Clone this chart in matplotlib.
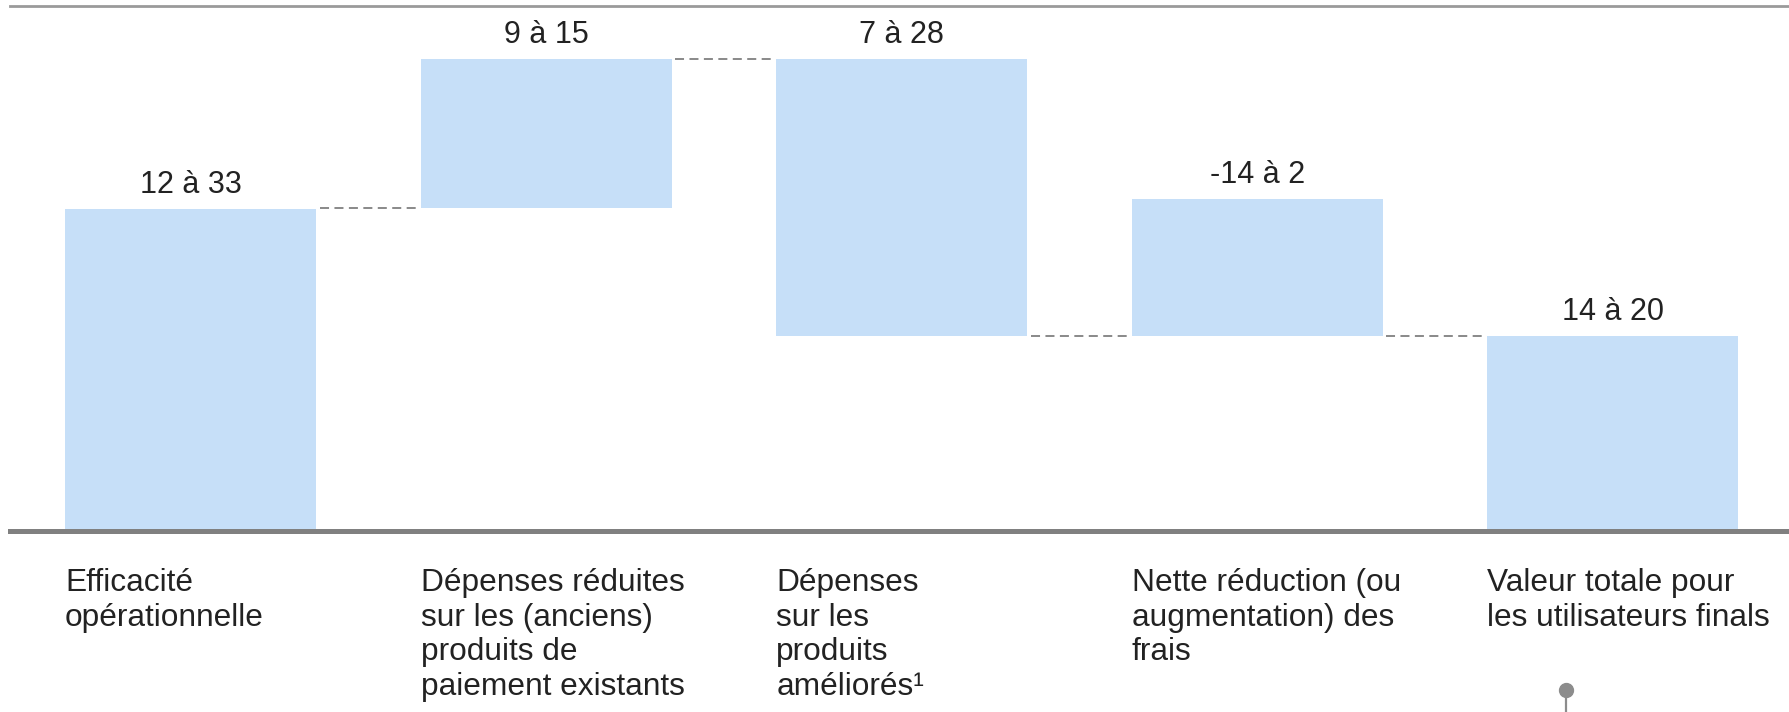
import matplotlib.pyplot as plt

plt.rcParams['font.family'] = ['Liberation Sans', 'DejaVu Sans']

# categories and ranges (upper bound of each range sets the bar size)
categories = [
    "Efficacité\nopérationnelle",
    "Dépenses réduites\nsur les (anciens)\nproduits de\npaiement existants",
    "Dépenses\nsur les\nproduits\naméliorés¹",
    "Nette réduction (ou\naugmentation) des\nfrais",
    "Valeur totale pour\nles utilisateurs finals",
]
value_labels = ["12 à 33", "9 à 15", "7 à 28", "-14 à 2", "14 à 20"]
bar_low = [0, 33.1, 20, 20, 0]
bar_high = [33, 48.4, 48.4, 34, 20]
connector_levels = [33.05, 48.4, 20, 20]

W, H = 1790, 712
BASE_PX = 531
fig = plt.figure(figsize=(W / 100, H / 100), dpi=100)
ax = fig.add_axes([10 / W, (H - BASE_PX) / H, 1780 / W, (BASE_PX - 6) / H])

x = list(range(len(categories)))
bw = 0.706
ax.bar(x, [h - l for h, l in zip(bar_high, bar_low)], bottom=bar_low,
       width=bw, color='#c6dff8', zorder=2)

ax.set_xlim(-0.5076, 4.498)
ax.set_ylim(0, 53.8)

# dashed connectors between bars
for i, lvl in enumerate(connector_levels):
    ax.plot([i + bw / 2 + 0.01, i + 1 - bw / 2 - 0.01], [lvl, lvl],
            color='#808080', lw=1.3, ls=(0, (5, 3)), zorder=1)

# range labels
for i, lab in enumerate(value_labels):
    ax.text(i, bar_high[i] + 1.64, lab, ha='center', va='baseline',
            fontsize=22, color='#222222')

# category labels under the axis
tr = ax.get_xaxis_transform()
for i, cat in enumerate(categories):
    ax.text(i - bw / 2, -0.071, cat, transform=tr, ha='left', va='top',
            fontsize=22.8, color='#222222', linespacing=1.2)

for s in ['left', 'right']:
    ax.spines[s].set_visible(False)
ax.spines['bottom'].set_color('#808080')
ax.spines['bottom'].set_linewidth(3.6)
ax.spines['top'].set_color('#9a9a9a')
ax.spines['top'].set_linewidth(2)
ax.set_xticks([])
ax.set_yticks([])

# callout marker below the last label
fig.add_artist(plt.Line2D([1566 / W, 1566 / W], [0, (H - 690) / H],
                          color='#8c8c8c', lw=1.6))
fig.add_artist(plt.Line2D([1566 / W], [(H - 690) / H], marker='o',
                          markersize=10, color='#8c8c8c', lw=0))

fig.savefig('out.png', dpi=100)
